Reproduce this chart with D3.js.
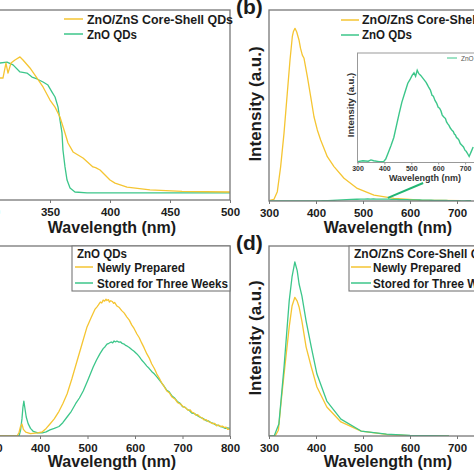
<!DOCTYPE html>
<html><head><meta charset="utf-8">
<script src="https://cdn.jsdelivr.net/npm/d3@7"></script>
<style>
html,body{margin:0;padding:0;background:#fff;}
svg{display:block;font-family:"Liberation Sans",Arial,sans-serif;}
</style></head>
<body>
<svg id="c" width="474" height="474"></svg>
<script>
// ---------- DATA ----------
const ticksA = [300, 350, 400, 450, 500];
const ticksMain = [300, 400, 500, 600, 700, 800];
const ticksInset = [300, 400, 500, 600, 700];

const seriesNamesAB = ["ZnO/ZnS Core-Shell QDs", "ZnO QDs"];
const seriesNamesCD = ["Newly Prepared", "Stored for Three Weeks"];
const legendTitleC = "ZnO QDs";
const legendTitleD = "ZnO/ZnS Core-Shell QDs";
const panelLabels = ["(b)", "(d)"];
const xLabel = "Wavelength (nm)";
const yLabel = "Intensity (a.u.)";

// (a) absorption, [nm, absorbance]
const absCoreShell = [[306,0.642],[308.3,0.642],[310.8,0.642],[313.3,0.721],[315,0.668],[317.5,0.721],[320.8,0.737],[325,0.753],[327.5,0.737],[333.3,0.695],[339.2,0.642],[344.2,0.595],[350,0.526],[354.2,0.489],[358.3,0.437],[362.5,0.353],[365,0.3],[369.2,0.253],[377.5,0.221],[385.8,0.174],[388,0.17],[391.7,0.158],[400,0.105],[404.2,0.089],[414.2,0.068],[433.3,0.053],[460,0.045],[500,0.042]];
const absZnO = [[306,0.721],[308.3,0.721],[314.2,0.726],[319.2,0.711],[325,0.674],[330.8,0.668],[335,0.647],[339.2,0.637],[344.2,0.621],[348.3,0.605],[351.7,0.568],[354.2,0.542],[356.7,0.489],[358.3,0.421],[360,0.353],[360.8,0.263],[362.5,0.174],[364.2,0.105],[366.7,0.063],[370.8,0.042],[380.8,0.037],[500,0.037]];

// (b) PL, [nm, intensity]
const plCoreShell = [[300,0],[303.5,0.5],[310.6,0.9],[317.7,4.9],[324.8,18],[331.9,35.4],[338.9,56.4],[344.7,73.8],[349.6,86],[351.8,88.6],[355.3,90.4],[359,88.5],[363.8,84.3],[367,80],[370.9,76.4],[374.5,74.7],[381.6,65.1],[388.7,54.6],[395.7,44.1],[402.8,37.2],[409.9,31.9],[424.1,23.2],[438.3,18],[459.6,11.9],[487.9,6.6],[523.4,3.1],[566,1.4],[622.7,0.5],[708,0.2]];
const plZnO = [[300,0.01],[320,0.02],[340,0.015],[350,0.03],[360,0.02],[380,0.01],[397,0.01],[405,0.04],[415,0.12],[425,0.2],[435,0.29],[445,0.43],[455,0.57],[465,0.7],[475,0.8],[487,0.92],[495,0.96],[503,1.01],[510,1.04],[516,1.0],[522,1.07],[528,1.03],[535,1.01],[545,0.97],[550,0.95],[555,0.93],[560,0.9],[565,0.87],[571,0.84],[577,0.78],[582,0.77],[588,0.72],[594,0.69],[600,0.64],[605,0.63],[610,0.6],[615,0.55],[620,0.53],[627,0.51],[631,0.47],[635,0.45],[640,0.43],[645,0.4],[652,0.37],[656,0.36],[660,0.33],[664,0.32],[668,0.29],[672,0.28],[677,0.26],[682,0.22],[688,0.2],[694,0.18],[700,0.14],[704,0.13],[708,0.11],[715,0.07],[722,0.12],[730,0.18]];
const arrowB = [[553,1.6],[628,9.4]];

// (c) ZnO QDs PL stability
const cNew = [[300,0],[352,0],[356,0.02],[359,0.05],[362,0.063],[365,0.035],[370,0.02],[380,0.012],[395,0.016],[405,0.022],[413,0.04],[421,0.063],[430,0.09],[440,0.13],[448,0.17],[457,0.221],[467,0.3],[478,0.395],[488,0.48],[499,0.574],[508,0.625],[516,0.668],[520,0.68],[523,0.69],[527,0.705],[530,0.70],[533,0.715],[536,0.71],[539,0.72],[541,0.713],[544,0.718],[546,0.705],[549,0.712],[552,0.708],[555,0.698],[557,0.703],[562,0.684],[567,0.676],[572,0.66],[577,0.648],[583,0.626],[588,0.61],[593,0.585],[598,0.566],[604,0.537],[609,0.517],[614,0.49],[619,0.465],[625,0.432],[630,0.41],[635,0.38],[641,0.354],[646,0.326],[651,0.305],[656,0.28],[661,0.262],[667,0.237],[672,0.228],[678,0.205],[684,0.195],[690,0.175],[696,0.168],[702,0.153],[707,0.148],[712,0.135],[716,0.138],[720,0.125],[724,0.122],[728,0.11],[732,0.112],[737,0.1],[741,0.096],[745,0.085],[750,0.086],[755,0.075],[759,0.072],[763,0.065],[768,0.066],[772,0.053],[776,0.058],[780,0.05],[784,0.052],[788,0.045],[792,0.046],[795,0.035],[800,0.037]];
const cStored = [[300,0],[356,0],[359,0.03],[362,0.09],[364,0.15],[366,0.184],[368,0.15],[371,0.1],[375,0.065],[380,0.04],[386,0.024],[395,0.016],[405,0.017],[413,0.022],[421,0.032],[430,0.04],[440,0.05],[448,0.07],[457,0.1],[466,0.13],[475,0.17],[483,0.2],[491,0.237],[500,0.29],[512,0.363],[519,0.4],[526,0.432],[533,0.46],[537,0.47],[541,0.484],[545,0.488],[550,0.495],[553,0.49],[556,0.5],[559,0.495],[562,0.5],[566,0.494],[570,0.495],[573,0.487],[577,0.484],[580,0.477],[583,0.474],[588,0.466],[593,0.455],[598,0.446],[604,0.432],[609,0.418],[614,0.4],[619,0.386],[625,0.368],[630,0.355],[635,0.34],[641,0.326],[646,0.311],[651,0.296],[656,0.28],[661,0.262],[667,0.24],[672,0.232],[678,0.21],[684,0.198],[690,0.18],[695,0.172],[700,0.155],[705,0.152],[710,0.14],[715,0.133],[720,0.12],[725,0.118],[730,0.11],[735,0.102],[740,0.095],[745,0.09],[750,0.08],[755,0.079],[760,0.07],[765,0.066],[770,0.058],[775,0.056],[780,0.05],[785,0.047],[790,0.04],[795,0.043],[800,0.04]];

// (d) ZnO/ZnS core-shell PL stability
const dNew = [[300,0],[313,0],[320,0.03],[326,0.184],[332,0.326],[343,0.574],[349,0.684],[355,0.73],[360,0.71],[364,0.679],[370,0.605],[379,0.468],[390,0.363],[402,0.258],[423,0.153],[453,0.074],[496,0.026],[550,0.008],[600,0.002],[683,0]];
const dStored = [[300,0],[311,0],[321,0.063],[332,0.363],[343,0.711],[349,0.837],[355,0.916],[360,0.87],[364,0.8],[370,0.737],[379,0.605],[390,0.468],[402,0.326],[423,0.184],[453,0.089],[496,0.026],[550,0.01],[600,0.003],[683,0]];

// ---------- STYLE ----------
const YEL = "#f5c532", GRN = "#3cc68a", FRAME = "#777", TXT = "#1b1b1b";
const svg = d3.select("#c");

function panel(cfg) {
  const {x, y, ticks} = cfg;
  const [x0, x1] = x.range(), [y0, y1] = y.range();
  const g = svg.append("g");
  const id = "clip" + cfg.name;
  g.append("clipPath").attr("id", id).append("rect")
    .attr("x", x0).attr("y", y1).attr("width", x1 - x0).attr("height", y0 - y1);
  const ax = g.append("g").attr("transform", `translate(0,${y0})`)
    .call(d3.axisBottom(x).tickValues(ticks).tickSize(3).tickPadding(5).tickFormat(d3.format("d")));
  ax.select(".domain").remove();
  ax.selectAll("line").attr("stroke", FRAME).attr("stroke-width", 1);
  ax.selectAll("text").attr("fill", TXT).attr("font-size", 11.5).attr("font-weight", "bold").attr("font-family", "Liberation Sans, Arial, sans-serif");
  const plot = g.append("g").attr("clip-path", `url(#${id})`);
  const line = d3.line().x(d => x(d[0])).y(d => y(d[1]));
  cfg.series.forEach(s => {
    plot.append("path").datum(s.data).attr("d", line).attr("fill", "none")
      .attr("stroke", s.color).attr("stroke-width", s.w || 1.3).attr("stroke-linejoin", "round");
  });
  g.append("rect").attr("x", x0).attr("y", y1).attr("width", x1 - x0).attr("height", y0 - y1)
    .attr("fill", "none").attr("stroke", FRAME).attr("stroke-width", 1.3);
  g.append("text").attr("x", cfg.xlabX).attr("y", cfg.xlabY).attr("text-anchor", "middle")
    .attr("font-size", 16).attr("font-weight", "bold").attr("fill", TXT).text(xLabel);
  if (cfg.ylabX !== undefined) {
    g.append("text").attr("transform", `translate(${cfg.ylabX},${cfg.ylabY}) rotate(-90)`)
      .attr("text-anchor", "middle").attr("font-size", 17).attr("font-weight", "bold").attr("fill", TXT).text(yLabel);
  }
  return g;
}

function legendRows(g, x, lineX0, lineX1, rows) {
  rows.forEach(r => {
    if (r.color) g.append("line").attr("x1", lineX0).attr("x2", lineX1).attr("y1", r.ly).attr("y2", r.ly)
      .attr("stroke", r.color).attr("stroke-width", 1.5);
    const t = g.append("text").attr("x", r.tx !== undefined ? r.tx : x).attr("y", r.ty).attr("font-size", 12)
      .attr("font-weight", "bold").attr("fill", TXT).text(r.label);
    if (r.len) t.attr("textLength", r.len).attr("lengthAdjust", "spacingAndGlyphs");
  });
}

// (a)
const xa = d3.scaleLinear().domain([300, 500]).range([-10, 230]);
const ya = d3.scaleLinear().domain([0, 1]).range([200, 10]);
const ga = panel({name: "a", x: xa, y: ya, ticks: ticksA, xlabX: 112, xlabY: 233,
  series: [{data: absZnO, color: GRN}, {data: absCoreShell, color: YEL}]});
legendRows(ga, 87, 64, 83, [
  {label: seriesNamesAB[0], color: YEL, ly: 19, ty: 23.5, len: 146},
  {label: seriesNamesAB[1], color: GRN, ly: 34, ty: 38.5, len: 50}]);

// (b)
const xb = d3.scaleLinear().domain([300, 800]).range([269, 504]);
const yb = d3.scaleLinear().domain([0, 100]).range([201, 10]);
const gb = panel({name: "b", x: xb, y: yb, ticks: ticksMain, xlabX: 388, xlabY: 233, ylabX: 261, ylabY: 104,
  series: [{data: plCoreShell, color: YEL}, {data: plZnO, color: GRN}]});
legendRows(gb, 362, 341, 359, [
  {label: seriesNamesAB[0], color: YEL, ly: 20, ty: 24, len: 146},
  {label: seriesNamesAB[1], color: GRN, ly: 35, ty: 39, len: 50}]);
gb.append("line").attr("x1", xb(arrowB[0][0])).attr("y1", yb(arrowB[0][1]))
  .attr("x2", xb(arrowB[1][0])).attr("y2", yb(arrowB[1][1])).attr("stroke", "#22b573").attr("stroke-width", 2);

// inset
const xi = d3.scaleLinear().domain([300, 800]).range([357.5, 492]);
const yi = d3.scaleLinear().domain([0, 1.27]).range([162.5, 53]);
{
  const g = svg.append("g");
  g.append("rect").attr("x", 357.5).attr("y", 53).attr("width", 134.5).attr("height", 109.5).attr("fill", "#fff");
  const ax = g.append("g").attr("transform", `translate(0,${yi.range()[0]})`)
    .call(d3.axisBottom(xi).tickValues(ticksInset).tickSize(2).tickPadding(2).tickFormat(d3.format("d")));
  ax.select(".domain").remove();
  ax.selectAll("line").attr("stroke", "#999");
  ax.selectAll("text").attr("fill", "#333").attr("font-size", 7).attr("font-weight", "bold").attr("font-family", "Liberation Sans, Arial, sans-serif");
  g.append("path").datum(plZnO).attr("fill", "none").attr("stroke", GRN).attr("stroke-width", 1.4)
    .attr("d", d3.line().x(d => xi(d[0])).y(d => yi(d[1])));
  g.append("rect").attr("x", 357.5).attr("y", 53).attr("width", 134.5).attr("height", 109.5)
    .attr("fill", "none").attr("stroke", "#999").attr("stroke-width", 1);
  g.append("text").attr("x", 425).attr("y", 181).attr("text-anchor", "middle").attr("font-size", 9)
    .attr("font-weight", "bold").attr("fill", "#333").text(xLabel);
  g.append("text").attr("transform", "translate(354,105) rotate(-90)").attr("text-anchor", "middle")
    .attr("font-size", 9.5).attr("font-weight", "bold").attr("fill", "#333").text(yLabel);
  g.append("line").attr("x1", 447).attr("x2", 457).attr("y1", 58).attr("y2", 58).attr("stroke", GRN).attr("stroke-width", 1);
  g.append("text").attr("x", 461).attr("y", 60.5).attr("font-size", 6.5).attr("fill", "#555").text(seriesNamesAB[1]);
}

// (c)
const xc = d3.scaleLinear().domain([300, 800]).range([-7.5, 230]);
const yc = d3.scaleLinear().domain([0, 1]).range([436, 246]);
const gc = panel({name: "c", x: xc, y: yc, ticks: ticksMain, xlabX: 112, xlabY: 467,
  series: [{data: cStored, color: GRN}, {data: cNew, color: YEL}]});
gc.append("rect").attr("x", 72).attr("y", 246).attr("width", 158).attr("height", 45)
  .attr("fill", "#fff").attr("stroke", FRAME).attr("stroke-width", 1.1);
legendRows(gc, 97, 75, 93, [
  {label: legendTitleC, ly: 0, ty: 258, tx: 77, len: 50},
  {label: seriesNamesCD[0], color: YEL, ly: 267, ty: 271.5, len: 88},
  {label: seriesNamesCD[1], color: GRN, ly: 283, ty: 287.5, len: 131}]);

// (d)
const xd = d3.scaleLinear().domain([300, 800]).range([269, 504]);
const yd = d3.scaleLinear().domain([0, 1]).range([436, 246]);
const gd = panel({name: "d", x: xd, y: yd, ticks: ticksMain, xlabX: 388, xlabY: 467, ylabX: 261, ylabY: 338,
  series: [{data: dNew, color: YEL}, {data: dStored, color: GRN}]});
gd.append("rect").attr("x", 349).attr("y", 246).attr("width", 160).attr("height", 45)
  .attr("fill", "#fff").attr("stroke", FRAME).attr("stroke-width", 1.1);
legendRows(gd, 373, 351, 371, [
  {label: legendTitleD, ly: 0, ty: 258, tx: 354},
  {label: seriesNamesCD[0], color: YEL, ly: 267, ty: 271.5, len: 88},
  {label: seriesNamesCD[1], color: GRN, ly: 283, ty: 287.5, len: 131}]);

// panel labels
svg.append("text").attr("x", 236).attr("y", 14).attr("font-size", 21).attr("font-weight", "bold").attr("fill", TXT).text(panelLabels[0]);
svg.append("text").attr("x", 236).attr("y", 250).attr("font-size", 21).attr("font-weight", "bold").attr("fill", TXT).text(panelLabels[1]);
</script>
</body></html>
